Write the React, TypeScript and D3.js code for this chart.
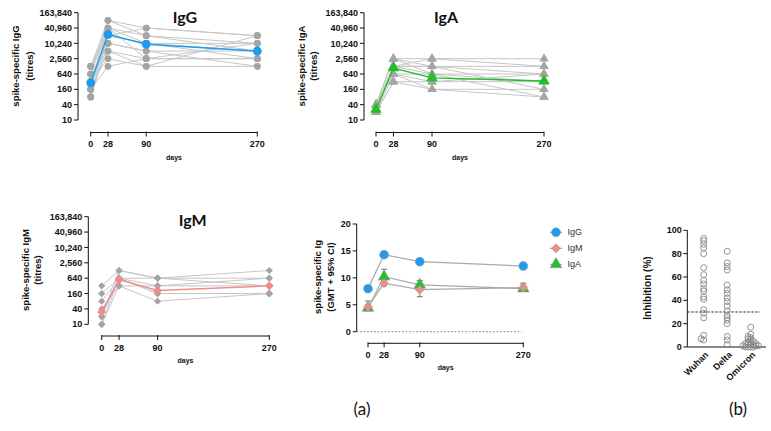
import React from "react";
import * as d3 from "d3";

// ---- data ----
const DAYS = [0, 28, 90, 270];
const TITRE_TICKS = [10, 40, 160, 640, 2560, 10240, 40960, 163840];
const GMT_TICKS = [0, 5, 10, 15, 20];
const INHIB_TICKS = [0, 20, 40, 60, 80, 100];

// individual titres, one row per subject, at DAYS
const IGG_SUBJECTS = [
  [1280, 81920, 40960, 20480],
  [640, 40960, 20480, 10240],
  [320, 40960, 10240, 5120],
  [160, 20480, 10240, 2560],
  [80, 10240, 5120, 1280],
  [1280, 20480, 40960, 20480],
  [640, 5120, 2560, 10240],
  [320, 2560, 1280, 1280],
  [160, 1280, 2560, 2560],
  [640, 81920, 20480, 5120],
  [320, 10240, 5120, 5120],
  [1280, 40960, 2560, 2560],
  [160, 5120, 1280, 20480],
  [80, 20480, 10240, 10240],
];
const IGG_GMT = [290, 23000, 9500, 5100];

const IGA_SUBJECTS = [
  [40, 2560, 2560, 2560],
  [20, 1280, 1280, 1280],
  [40, 640, 640, 640],
  [20, 320, 160, 80],
  [40, 2560, 1280, 160],
  [20, 1280, 640, 320],
  [40, 640, 320, 640],
  [20, 1280, 2560, 1280],
  [40, 2560, 640, 80],
  [20, 640, 160, 160],
  [40, 1280, 1280, 640],
  [20, 320, 320, 320],
];
const IGA_GMT = [26, 1100, 450, 340];

const IGM_SUBJECTS = [
  [320, 1280, 640, 1280],
  [160, 640, 640, 640],
  [80, 640, 320, 320],
  [40, 320, 80, 160],
  [20, 640, 160, 160],
  [10, 320, 320, 640],
  [10, 640, 160, 160],
  [20, 1280, 640, 320],
];
const IGM_GMT = [30, 560, 210, 320];

// log2 GMT with 95% CI
const G_IGG = [8.0, 14.3, 13.0, 12.2];
const G_IGG_LO = [7.6, 13.9, 12.6, 11.8];
const G_IGG_HI = [8.4, 14.7, 13.4, 12.6];
const G_IGM = [4.6, 9.0, 7.8, 8.2];
const G_IGM_LO = [4.0, 8.5, 6.5, 7.6];
const G_IGM_HI = [5.7, 9.6, 8.8, 9.0];
const G_IGA = [4.4, 10.2, 8.7, 8.0];
const G_IGA_LO = [3.9, 9.0, 7.8, 7.5];
const G_IGA_HI = [5.0, 11.6, 9.5, 8.6];

const VARIANTS = ["Wuhan", "Delta", "Omicron"];
const WUHAN = [93, 91, 88, 85, 80, 68, 62, 57, 54, 50, 48, 43, 41, 32, 29, 25, 10, 7, 6];
const DELTA = [82, 72, 69, 66, 53, 49, 46, 42, 39, 35, 31, 27, 25, 23, 20, 9, 6, 2];
const OMICRON = [17, 11, 9, 8, 7, 6, 5, 4, 4, 3, 3, 2, 2, 2, 1, 1, 1, 0, 0, 0, 0];
const THRESHOLD = 30;

const FONT = "'Liberation Sans', Arial, sans-serif";
const TITLE_FONT = "Lato, 'Open Sans', sans-serif";
const AXIS = "#111";
const GREY_LINE = "#c6c6c6";
const GREY_DOT = "#a4a4a4";
const BLUE = "#1e9cf0";
const PINK = "#f28b8b";
const GREEN = "#1fc02a";

const sym = (type: d3.SymbolType, size: number) => d3.symbol().type(type).size(size)() as string;

function Marker({ kind, x, y, fill, size, stroke }: any) {
  if (kind === "diamond") {
    return (
      <path d={sym(d3.symbolSquare, size)} transform={`translate(${x},${y}) rotate(45)`} fill={fill} stroke={stroke || "none"} strokeWidth={0.6} />
    );
  }
  const t = kind === "triangle" ? d3.symbolTriangle : d3.symbolCircle;
  return <path d={sym(t, size)} transform={`translate(${x},${y})`} fill={fill} stroke={stroke || "none"} strokeWidth={0.6} />;
}

function XDays({ x, y }: { x: d3.ScaleLinear<number, number>; y: number }) {
  return (
    <g>
      <line x1={x(0)} x2={x(270)} y1={y} y2={y} stroke={AXIS} />
      {DAYS.map((d) => (
        <g key={d}>
          <line x1={x(d)} x2={x(d)} y1={y - 1} y2={y + 4} stroke={AXIS} />
          <text x={x(d)} y={y + 14.5} textAnchor="middle" fontSize={9} fontWeight="bold" fill={AXIS}>
            {d}
          </text>
        </g>
      ))}
      <text x={(x(0) + x(270)) / 2} y={y + 27} textAnchor="middle" fontSize={7} fontWeight="bold" fill={AXIS}>
        days
      </text>
    </g>
  );
}

function YLabel({ x, y, lines, gap, size = 9.5 }: any) {
  return (
    <g>
      {lines.map((l: string, i: number) => (
        <text key={i} transform={`translate(${x + i * gap},${y}) rotate(-90)`} textAnchor="middle" dy="0.35em" fontSize={size} fontWeight="bold" fill={AXIS}>
          {l}
        </text>
      ))}
    </g>
  );
}

function TitrePanel({ g, title, label, subjects, gmt, color, kind, dotSize, gmtSize }: any) {
  const x = d3.scaleLinear().domain([0, 270]).range([g.x0, g.x1]);
  const y = d3.scaleLog().base(2).domain([10, 163840]).range([g.yBot, g.yTop]);
  const fmt = d3.format(",");
  const line = d3
    .line<number>()
    .x((_, i) => x(DAYS[i]))
    .y((v) => y(v));
  return (
    <g>
      <line x1={g.ax} x2={g.ax} y1={g.yTop} y2={g.yBot} stroke={AXIS} />
      {TITRE_TICKS.map((t) => (
        <g key={t}>
          <line x1={g.ax - 4} x2={g.ax} y1={y(t)} y2={y(t)} stroke={AXIS} />
          <text x={g.ax - 6} y={y(t)} dy="0.35em" textAnchor="end" fontSize={9} fontWeight="bold" fill={AXIS}>
            {fmt(t)}
          </text>
        </g>
      ))}
      <XDays x={x} y={g.xAxisY} />
      <text x={g.tx} y={g.ty} textAnchor="middle" fontFamily={TITLE_FONT} fontSize={16} fontWeight="bold" fill="#111">
        {title}
      </text>
      <YLabel x={g.lx} y={g.ly} lines={[label, "(titres)"]} gap={g.lgap} />
      {subjects.map((s: number[], i: number) => (
        <path key={i} d={line(s) as string} fill="none" stroke={GREY_LINE} strokeWidth={1} />
      ))}
      {subjects.map((s: number[], i: number) =>
        s.map((v, j) => <Marker key={`${i}-${j}`} kind={kind} x={x(DAYS[j])} y={y(v)} fill={GREY_DOT} size={dotSize} />)
      )}
      <path d={line(gmt) as string} fill="none" stroke={color} strokeWidth={1.4} />
      {gmt.map((v: number, j: number) => (
        <Marker key={j} kind={kind} x={x(DAYS[j])} y={y(v)} fill={color} size={gmtSize} />
      ))}
    </g>
  );
}

function GmtPanel() {
  const ax = 356.7;
  const x = d3.scaleLinear().domain([0, 270]).range([368, 523.3]);
  const y = d3.scaleLinear().domain([0, 20]).range([331.7, 224]);
  const line = d3
    .line<number>()
    .x((_, i) => x(DAYS[i]))
    .y((v) => y(v));
  const series = [
    { name: "IgG", v: G_IGG, lo: G_IGG_LO, hi: G_IGG_HI, color: BLUE, kind: "circle", size: 62 },
    { name: "IgM", v: G_IGM, lo: G_IGM_LO, hi: G_IGM_HI, color: PINK, kind: "diamond", size: 40 },
    { name: "IgA", v: G_IGA, lo: G_IGA_LO, hi: G_IGA_HI, color: GREEN, kind: "triangle", size: 58 },
  ];
  const drawOrder = [series[2], series[1], series[0]];
  return (
    <g>
      <line x1={ax} x2={ax} y1={y(20)} y2={y(0)} stroke={AXIS} />
      {GMT_TICKS.map((t) => (
        <g key={t}>
          <line x1={ax - 4} x2={ax} y1={y(t)} y2={y(t)} stroke={AXIS} />
          <text x={ax - 6} y={y(t)} dy="0.35em" textAnchor="end" fontSize={9} fontWeight="bold" fill={AXIS}>
            {t}
          </text>
        </g>
      ))}
      <line x1={ax} x2={x(270) - 1.5} y1={y(0)} y2={y(0)} stroke="#777" strokeDasharray="1.5,2" />
      <XDays x={x} y={343.3} />
      <YLabel x={318} y={277} lines={["spike-specific Ig", "(GMT + 95% CI)"]} gap={13} />
      {drawOrder.map((s) => (
        <g key={s.name}>
          <path d={line(s.v) as string} fill="none" stroke="#aaa" strokeWidth={1.2} />
          {s.v.map((_, j) => (
            <g key={j} stroke="#666" strokeWidth={0.9}>
              <line x1={x(DAYS[j])} x2={x(DAYS[j])} y1={y(s.lo[j])} y2={y(s.hi[j])} />
              <line x1={x(DAYS[j]) - 3} x2={x(DAYS[j]) + 3} y1={y(s.lo[j])} y2={y(s.lo[j])} />
              <line x1={x(DAYS[j]) - 3} x2={x(DAYS[j]) + 3} y1={y(s.hi[j])} y2={y(s.hi[j])} />
            </g>
          ))}
        </g>
      ))}
      {drawOrder.map((s) =>
        s.v.map((v, j) => <Marker key={`${s.name}${j}`} kind={s.kind} x={x(DAYS[j])} y={y(v)} fill={s.color} size={s.size} stroke="#999" />)
      )}
      {series.map((s, i) => (
        <g key={s.name}>
          <line x1={550} x2={562} y1={232.3 + i * 16} y2={232.3 + i * 16} stroke="#999" />
          <Marker kind={s.kind} x={556} y={232.3 + i * 16} fill={s.color} size={s.size} stroke="#999" />
          <text x={567.5} y={232.3 + i * 16} dy="0.35em" fontSize={9} fill="#333">
            {s.name}
          </text>
        </g>
      ))}
    </g>
  );
}

// deterministic spreading of overlapping dots (scatter dot plot style)
function spread(values: number[], y: (v: number) => number, step: number, minDist: number) {
  const placed: { dx: number; py: number; v: number }[] = [];
  [...values]
    .sort((a, b) => a - b)
    .forEach((v) => {
      const py = y(v);
      for (let k = 0; k < 20; k++) {
        const dx = (k % 2 === 0 ? 1 : -1) * Math.ceil(k / 2) * step;
        if (placed.every((p) => Math.hypot(p.dx - dx, p.py - py) >= minDist)) {
          placed.push({ dx, py, v });
          break;
        }
      }
    });
  return placed;
}

function InhibitionPanel() {
  const ax = 687.3;
  const y = d3.scaleLinear().domain([0, 100]).range([347, 230.3]);
  const x = d3.scalePoint<string>().domain(VARIANTS).range([703.7, 750.7]);
  const groups = [WUHAN, DELTA, OMICRON];
  return (
    <g>
      <line x1={ax} x2={ax} y1={y(100)} y2={y(0)} stroke={AXIS} />
      {INHIB_TICKS.map((t) => (
        <g key={t}>
          <line x1={ax - 4} x2={ax} y1={y(t)} y2={y(t)} stroke={AXIS} />
          <text x={ax - 5.5} y={y(t)} dy="0.35em" textAnchor="end" fontSize={9} fontWeight="bold" fill={AXIS}>
            {t}
          </text>
        </g>
      ))}
      <line x1={ax} x2={766} y1={y(0)} y2={y(0)} stroke={AXIS} />
      <line x1={ax} x2={760} y1={y(THRESHOLD)} y2={y(THRESHOLD)} stroke="#333" strokeDasharray="2.5,1.5" />
      <YLabel x={647} y={288} lines={["Inhibition (%)"]} gap={0} size={10} />
      {groups.map((vals, gi) =>
        spread(vals, y, 2.6, 2.2).map((p, i) => (
          <circle key={`${gi}-${i}`} cx={(x(VARIANTS[gi]) as number) + p.dx} cy={p.py} r={3} fill="none" stroke="#888" strokeWidth={0.9} />
        ))
      )}
      {VARIANTS.map((c) => (
        <text key={c} transform={`translate(${(x(c) as number) + 3},${353}) rotate(-45)`} textAnchor="end" dy="0.35em" fontSize={9} fontWeight="bold" fill={AXIS}>
          {c}
        </text>
      ))}
    </g>
  );
}

export default function App() {
  return (
    <div style={{ position: "absolute", left: 0, top: 0, width: 771, height: 431, background: "#fff" }}>
      <svg width={771} height={431} fontFamily={FONT} style={{ display: "block" }}>
        <rect width={771} height={431} fill="#fff" />
        <TitrePanel
          g={{ ax: 78, x0: 90.7, x1: 257.3, yTop: 12.7, yBot: 120, xAxisY: 132.5, tx: 185, ty: 23, lx: 16, ly: 66, lgap: 14 }}
          title="IgG"
          label="spike-specific IgG"
          subjects={IGG_SUBJECTS}
          gmt={IGG_GMT}
          color={BLUE}
          kind="circle"
          dotSize={36}
          gmtSize={62}
        />
        <TitrePanel
          g={{ ax: 364, x0: 376, x1: 544, yTop: 12.7, yBot: 120, xAxisY: 132.5, tx: 446, ty: 23, lx: 302, ly: 66, lgap: 12 }}
          title="IgA"
          label="spike-specific IgA"
          subjects={IGA_SUBJECTS}
          gmt={IGA_GMT}
          color={GREEN}
          kind="triangle"
          dotSize={38}
          gmtSize={58}
        />
        <TitrePanel
          g={{ ax: 88.3, x0: 101.7, x1: 269.3, yTop: 216.7, yBot: 324.3, xAxisY: 336, tx: 192.7, ty: 226, lx: 26, ly: 270, lgap: 12 }}
          title="IgM"
          label="spike-specific IgM"
          subjects={IGM_SUBJECTS}
          gmt={IGM_GMT}
          color={PINK}
          kind="diamond"
          dotSize={26}
          gmtSize={40}
        />
        <GmtPanel />
        <InhibitionPanel />
        <text x={362} y={415} textAnchor="middle" fontFamily={TITLE_FONT} fontSize={17} fill="#111">
          (a)
        </text>
        <text x={738} y={415} textAnchor="middle" fontFamily={TITLE_FONT} fontSize={17} fill="#111">
          (b)
        </text>
      </svg>
    </div>
  );
}
